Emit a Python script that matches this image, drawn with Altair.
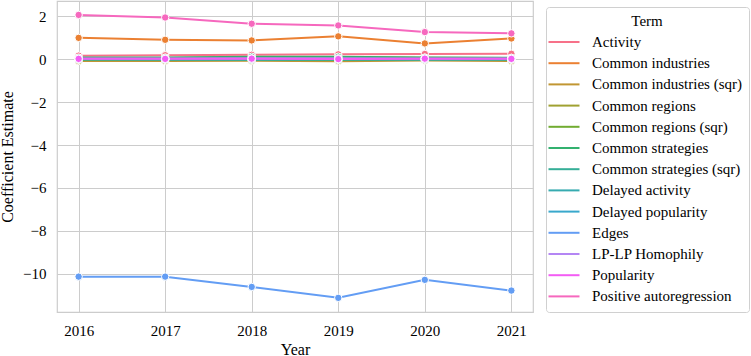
import math
import altair as alt
import pandas as pd

years = [2016, 2017, 2018, 2019, 2020, 2021]
terms = [
    "Activity", "Common industries", "Common industries (sqr)", "Common regions",
    "Common regions (sqr)", "Common strategies", "Common strategies (sqr)",
    "Delayed activity", "Delayed popularity", "Edges", "LP-LP Homophily",
    "Popularity", "Positive autoregression",
]
activity = [0.17, 0.19, 0.21, 0.23, 0.25, 0.26]
common_industries = [1.00, 0.91, 0.88, 1.07, 0.74, 0.97]
common_industries_sqr = [-0.08, -0.08, -0.07, -0.09, -0.06, -0.08]
common_regions = [0.05, 0.06, 0.09, 0.10, 0.07, 0.06]
common_regions_sqr = [-0.02, -0.02, -0.03, -0.03, -0.02, -0.02]
common_strategies = [0.08, 0.08, 0.12, 0.12, 0.08, 0.07]
common_strategies_sqr = [-0.01, -0.01, -0.02, -0.02, -0.01, -0.01]
delayed_activity = [0.00, 0.00, 0.01, 0.00, 0.00, 0.00]
delayed_popularity = [0.01, 0.00, 0.00, 0.01, 0.00, 0.00]
edges = [-10.14, -10.14, -10.62, -11.13, -10.29, -10.79]
lp_homophily = [0.04, 0.04, 0.05, 0.05, 0.04, 0.04]
popularity = [0.02, 0.02, 0.03, 0.01, 0.03, 0.02]
positive_autoreg = [2.07, 1.95, 1.66, 1.58, 1.27, 1.21]

series = [activity, common_industries, common_industries_sqr, common_regions,
          common_regions_sqr, common_strategies, common_strategies_sqr,
          delayed_activity, delayed_popularity, edges, lp_homophily,
          popularity, positive_autoreg]

rows = []
for t, vals in zip(terms, series):
    for y, v in zip(years, vals):
        rows.append({"Year": y, "Term": t, "Estimate": v})
df = pd.DataFrame(rows)


# seaborn-style husl palette
M = [[3.2406, -1.5372, -0.4986], [-0.9689, 1.8758, 0.0415], [0.0557, -0.2040, 1.0570]]
refU, refV, kappa, eps = 0.19784, 0.46834, 903.2963, 0.0088564


def max_chroma(L, H):
    hrad = math.radians(H)
    sinH, cosH = math.sin(hrad), math.cos(hrad)
    sub1 = (L + 16) ** 3 / 1560896.0
    sub2 = sub1 if sub1 > eps else L / kappa
    result = float("inf")
    for m1, m2, m3 in M:
        top = (0.99915 * m1 + 1.05122 * m2 + 1.14460 * m3) * sub2
        rb = 0.86330 * m3 - 0.17266 * m2
        lb = 0.12949 * m3 - 0.38848 * m1
        bottom = (rb * sinH + lb * cosH) * sub2
        for t in (0.0, 1.0):
            C = L * (top - 1.05122 * t) / (bottom + 0.17266 * sinH * t)
            if 0 < C < result:
                result = C
    return result


def husl_to_hex(H, S, L):
    C = max_chroma(L, H) / 100.0 * S
    hr = math.radians(H)
    U, V = math.cos(hr) * C, math.sin(hr) * C
    t = (L + 16) / 116.0
    varY = t ** 3 if t ** 3 > eps else (116 * t - 16) / kappa
    varU = U / (13 * L) + refU
    varV = V / (13 * L) + refV
    Y = varY
    X = 0 - (9 * Y * varU) / ((varU - 4) * varV - varU * varV)
    Z = (9 * Y - 15 * varV * Y - varV * X) / (3 * varV)
    out = []
    for r in M:
        c = r[0] * X + r[1] * Y + r[2] * Z
        c = 12.92 * c if c <= 0.0031308 else 1.055 * c ** (1 / 2.4) - 0.055
        c = min(max(c, 0), 1)
        out.append(int(round(c * 255)))
    return "#%02x%02x%02x" % tuple(out)


n = len(terms)
colors = []
for i in range(n):
    h = ((i / n) + 0.01) % 1 * 359
    colors.append(husl_to_hex(h, 0.9 * 99, 0.65 * 99))

FONT = "Liberation Serif"

chart = alt.Chart(df).mark_line(
    strokeWidth=2,
    point=alt.OverlayMarkDef(filled=True, size=55, stroke="white", strokeWidth=1, opacity=1),
).encode(
    x=alt.X("Year:Q", scale=alt.Scale(domain=[2015.75, 2021.25], nice=False, zero=False),
            axis=alt.Axis(values=years, format="d", title="Year",
                          labelFont=FONT, titleFont=FONT)),
    y=alt.Y("Estimate:Q", scale=alt.Scale(domain=[-11.79, 2.72], nice=False, zero=False),
            axis=alt.Axis(values=[2, 0, -2, -4, -6, -8, -10], title="Coefficient Estimate",
                          labelFont=FONT, titleFont=FONT)),
    color=alt.Color("Term:N", scale=alt.Scale(domain=terms, range=colors),
                    legend=alt.Legend(
                        title="Term", orient="none", legendX=489, legendY=6,
                        symbolType="M-1.55,0L1.55,0", symbolSize=400, symbolStrokeWidth=2,
                        titleAnchor="middle", titleFontSize=15, titleFont=FONT,
                        titleFontWeight="normal", titleColor="black",
                        labelFont=FONT, labelFontSize=15, labelColor="black",
                        strokeColor="#d0d0d0", cornerRadius=3, padding=7,
                        rowPadding=2.2, labelOffset=17, titlePadding=2,
                        labelLimit=300,
                    )),
    order="Year:Q",
).properties(
    width=476,
    height=311,
    padding={"left": 57, "top": 1, "right": 218, "bottom": 44},
    autosize=alt.AutoSizeParams(type="none"),
).configure(
    font=FONT,
).configure_view(
    stroke="#cccccc", strokeWidth=1.2,
).configure_axis(
    grid=True, gridColor="#cccccc", gridWidth=1, domain=False, ticks=False,
    labelFont=FONT, labelFontSize=15, labelColor="black", labelPadding=11,
    titleFont=FONT, titleFontSize=16, titleFontWeight="normal", titleColor="black",
).configure_axisX(titlePadding=3).configure_axisY(titlePadding=7)

chart.save("out.html", embed_options={"renderer": "svg", "actions": False})
